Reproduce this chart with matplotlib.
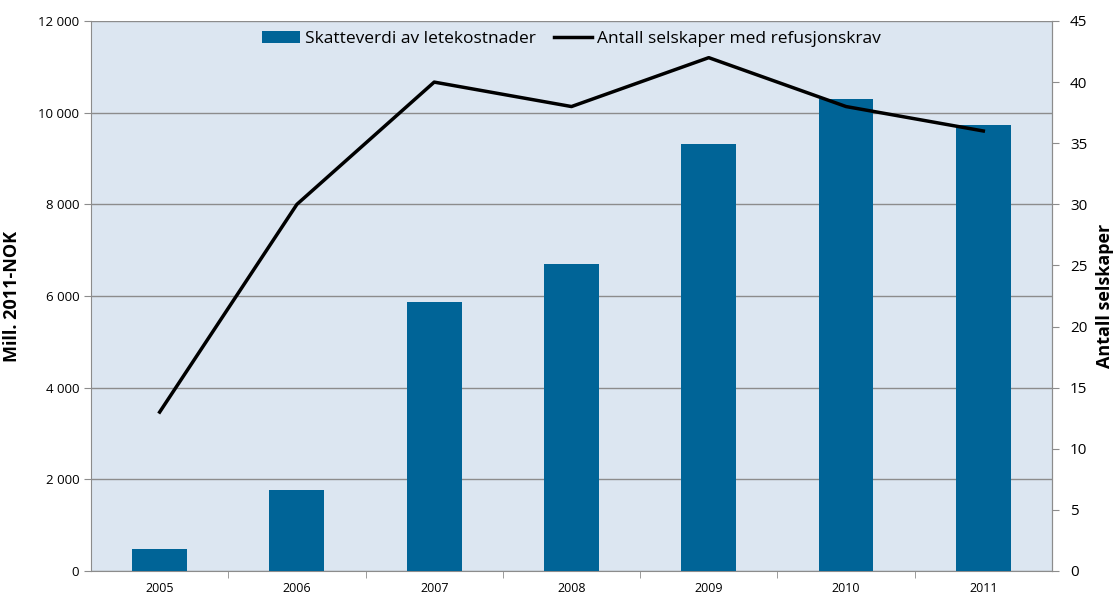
import matplotlib
matplotlib.use('Agg')
import matplotlib.pyplot as plt
from matplotlib.ticker import FuncFormatter

years = ['2005', '2006', '2007', '2008', '2009', '2010', '2011']
skatteverdi = [490, 1770, 5870, 6700, 9320, 10300, 9740]
selskaper = [13, 30, 40, 38, 42, 38, 36]

plt.rcParams['font.family'] = ['Open Sans', 'DejaVu Sans']

fig = plt.figure(figsize=(11.14, 5.98), dpi=100)
ax = fig.add_axes([0.0817, 0.0452, 0.8626, 0.9197])
ax.set_facecolor('#dce6f1')

x = list(range(len(years)))
bars = ax.bar(x, skatteverdi, width=0.4, color='#006497', zorder=3,
              label='Skatteverdi av letekostnader')
ax.set_xlim(-0.5, len(years) - 0.5)
ax.set_ylim(0, 12000)
ax.set_yticks(range(0, 12001, 2000))
ax.yaxis.set_major_formatter(FuncFormatter(lambda v, p: f'{int(v):,}'.replace(',', ' ')))
ax.grid(axis='y', color='#8c8c8c', linewidth=1, zorder=1)
ax.set_xticks(x)
ax.set_xticklabels(years)
ax.set_xticks([i + 0.5 for i in x[:-1]], minor=True)
ax.tick_params(axis='x', which='major', length=0, labelsize=9, pad=8)
ax.tick_params(axis='x', which='minor', length=5, color='#8c8c8c')
ax.tick_params(axis='y', length=5, color='#8c8c8c', labelsize=9.5)
ax.set_ylabel('Mill. 2011-NOK', fontsize=13, fontweight='bold', labelpad=12)
ax.spines['top'].set_visible(False)
for s in ['left', 'bottom', 'right']:
    ax.spines[s].set_color('#8c8c8c')

ax2 = ax.twinx()
line, = ax2.plot(x, selskaper, color='black', linewidth=2.5, zorder=4,
                 label='Antall selskaper med refusjonskrav')
ax2.set_ylim(0, 45)
ax2.set_yticks(range(0, 46, 5))
ax2.tick_params(axis='y', length=5, color='#8c8c8c', labelsize=11, pad=8)
ax2.set_ylabel('Antall selskaper', fontsize=13, fontweight='bold', labelpad=6)
ax2.spines['top'].set_visible(False)
ax2.spines['right'].set_color('#8c8c8c')
ax2.spines['left'].set_visible(False)
ax2.spines['bottom'].set_visible(False)

ax.legend([bars, line], [bars.get_label(), line.get_label()], loc='upper center',
          ncol=2, frameon=False, fontsize=12.5, bbox_to_anchor=(0.5, 1.01),
          handlelength=2.2, columnspacing=1.0, handletextpad=0.3)

fig.savefig('out.png', dpi=100)
